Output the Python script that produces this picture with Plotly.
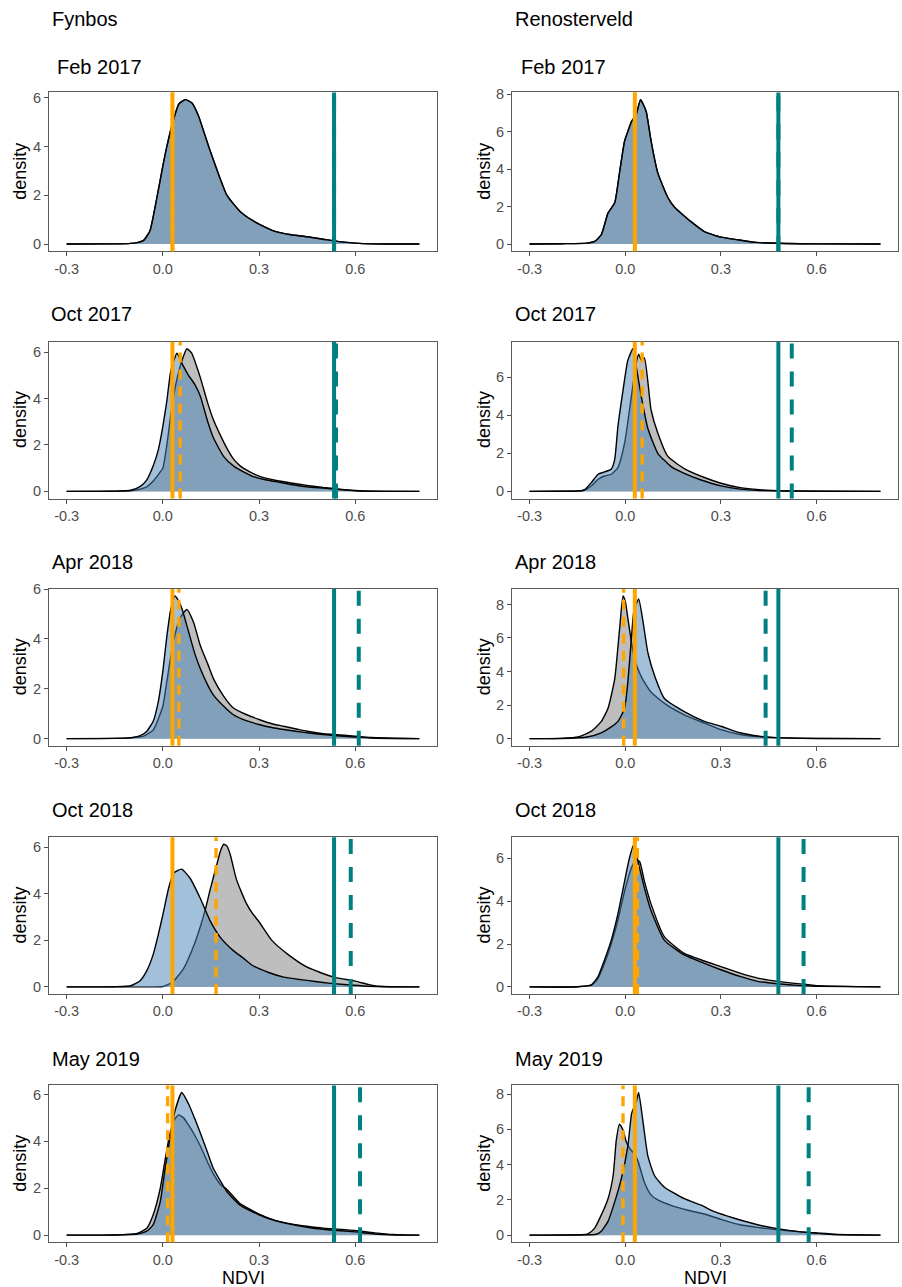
import plotly.graph_objects as go

# ---------------- data ----------------
ROW_TITLES = ["Feb 2017", "Oct 2017", "Apr 2018", "Oct 2018", "May 2019"]
COL_TITLES = ["Fynbos", "Renosterveld"]
X_TICKS = [-0.3, 0.0, 0.3, 0.6]
X_TICK_TEXT = ["-0.3", "0.0", "0.3", "0.6"]

# ---- Fynbos ----
FYN_FEB17_GREY_X = [-0.30, -0.15, -0.10, -0.08, -0.06, -0.04, -0.02, 0.00, 0.0125, 0.03, 0.05, 0.07, 0.09, 0.11, 0.143, 0.17, 0.20, 0.24, 0.27, 0.30, 0.35, 0.40, 0.45, 0.50, 0.55, 0.60, 0.65, 0.80]
FYN_FEB17_GREY_Y = [0, 0.01, 0.03, 0.06, 0.15, 0.55, 1.8, 3.2, 4.0, 4.95, 5.75, 5.93, 5.8, 5.3, 4.0, 3.0, 2.0, 1.35, 1.05, 0.82, 0.52, 0.38, 0.3, 0.2, 0.1, 0.04, 0.01, 0]
FYN_FEB17_BLUE_X = FYN_FEB17_GREY_X
FYN_FEB17_BLUE_Y = FYN_FEB17_GREY_Y

FYN_OCT17_GREY_X = [-0.30, -0.15, -0.10, -0.07, -0.05, -0.03, -0.01, 0.00, 0.0125, 0.023, 0.035, 0.045, 0.06, 0.075, 0.09, 0.105, 0.117, 0.14, 0.158, 0.18, 0.20, 0.22, 0.242, 0.27, 0.30, 0.35, 0.40, 0.45, 0.50, 0.55, 0.60, 0.65, 0.80]
FYN_OCT17_GREY_Y = [0, 0.01, 0.03, 0.1, 0.2, 0.45, 0.8, 1.0, 2.0, 3.1, 4.2, 4.9, 5.65, 6.14, 5.95, 5.4, 4.9, 3.8, 3.07, 2.4, 1.85, 1.4, 1.09, 0.85, 0.66, 0.48, 0.36, 0.26, 0.17, 0.1, 0.04, 0.01, 0]
FYN_OCT17_BLUE_X = [-0.30, -0.15, -0.10, -0.07, -0.05, -0.03, -0.014, 0.00, 0.0125, 0.025, 0.044, 0.06, 0.08, 0.10, 0.117, 0.14, 0.158, 0.19, 0.22, 0.25, 0.28, 0.32, 0.36, 0.40, 0.45, 0.50, 0.55, 0.60, 0.65, 0.80]
FYN_OCT17_BLUE_Y = [0, 0.01, 0.05, 0.22, 0.5, 1.1, 1.8, 2.8, 3.9, 5.2, 5.95, 5.5, 5.0, 4.6, 4.1, 3.0, 2.3, 1.5, 1.1, 0.85, 0.65, 0.5, 0.4, 0.3, 0.2, 0.14, 0.08, 0.03, 0.01, 0]

FYN_APR18_GREY_X = [-0.30, -0.15, -0.10, -0.06, -0.03, 0.00, 0.0125, 0.033, 0.054, 0.075, 0.096, 0.117, 0.14, 0.158, 0.19, 0.22, 0.26, 0.30, 0.34, 0.377, 0.42, 0.45, 0.50, 0.53, 0.60, 0.65, 0.80]
FYN_APR18_GREY_Y = [0, 0.01, 0.03, 0.1, 0.35, 1.3, 2.3, 3.9, 4.85, 5.18, 4.66, 3.73, 3.0, 2.4, 1.7, 1.23, 0.97, 0.77, 0.6, 0.5, 0.38, 0.3, 0.2, 0.17, 0.1, 0.05, 0]
FYN_APR18_BLUE_X = [-0.30, -0.15, -0.10, -0.07, -0.05, -0.03, -0.014, 0.00, 0.0125, 0.025, 0.038, 0.05, 0.06, 0.08, 0.10, 0.117, 0.14, 0.158, 0.19, 0.22, 0.26, 0.30, 0.34, 0.377, 0.42, 0.45, 0.50, 0.53, 0.60, 0.65, 0.80]
FYN_APR18_BLUE_Y = [0, 0.01, 0.04, 0.12, 0.3, 0.7, 1.5, 2.7, 4.1, 5.2, 5.72, 5.5, 5.2, 4.3, 3.4, 2.8, 2.15, 1.75, 1.3, 0.96, 0.72, 0.57, 0.45, 0.37, 0.29, 0.24, 0.16, 0.13, 0.07, 0.03, 0]

FYN_OCT18_GREY_X = [-0.30, -0.05, 0.00, 0.03, 0.065, 0.10, 0.117, 0.132, 0.148, 0.169, 0.18, 0.19, 0.20, 0.21, 0.23, 0.26, 0.28, 0.30, 0.34, 0.39, 0.45, 0.533, 0.60, 0.64, 0.67, 0.80]
FYN_OCT18_GREY_Y = [0, 0, 0.02, 0.2, 0.8, 1.9, 2.6, 3.3, 4.2, 5.3, 5.85, 6.13, 6.05, 5.7, 4.6, 3.6, 3.15, 2.8, 2.0, 1.4, 0.85, 0.42, 0.25, 0.11, 0.03, 0]
FYN_OCT18_BLUE_X = [-0.30, -0.15, -0.10, -0.07, -0.05, -0.03, -0.014, 0.00, 0.018, 0.033, 0.059, 0.085, 0.117, 0.148, 0.18, 0.22, 0.25, 0.28, 0.33, 0.377, 0.42, 0.45, 0.50, 0.533, 0.596, 0.64, 0.70, 0.80]
FYN_OCT18_BLUE_Y = [0, 0.01, 0.05, 0.28, 0.7, 1.4, 2.26, 3.1, 4.24, 4.88, 5.06, 4.67, 3.8, 2.83, 2.12, 1.56, 1.25, 0.92, 0.62, 0.42, 0.33, 0.28, 0.19, 0.14, 0.07, 0.03, 0.01, 0]

FYN_MAY19_GREY_X = [-0.30, -0.15, -0.08, -0.05, -0.03, -0.008, 0.007, 0.02, 0.035, 0.049, 0.065, 0.08, 0.10, 0.117, 0.14, 0.158, 0.18, 0.20, 0.24, 0.30, 0.35, 0.40, 0.45, 0.50, 0.533, 0.60, 0.66, 0.72, 0.80]
FYN_MAY19_GREY_Y = [0, 0.01, 0.08, 0.3, 0.87, 2.0, 3.2, 4.2, 4.9, 5.13, 5.0, 4.7, 4.25, 3.8, 3.1, 2.6, 2.15, 1.95, 1.36, 0.9, 0.63, 0.48, 0.38, 0.3, 0.27, 0.2, 0.1, 0.03, 0]
FYN_MAY19_BLUE_X = [-0.30, -0.15, -0.08, -0.05, -0.03, -0.008, 0.007, 0.023, 0.038, 0.059, 0.08, 0.10, 0.117, 0.14, 0.158, 0.18, 0.20, 0.24, 0.30, 0.35, 0.40, 0.45, 0.50, 0.533, 0.60, 0.66, 0.72, 0.80]
FYN_MAY19_BLUE_Y = [0, 0.01, 0.05, 0.17, 0.45, 1.43, 2.83, 4.2, 5.3, 6.08, 5.6, 4.95, 4.36, 3.5, 2.83, 2.3, 1.85, 1.29, 0.87, 0.62, 0.46, 0.34, 0.25, 0.21, 0.14, 0.05, 0.01, 0]

FYN_ORANGE_SOLID = [0.03, 0.03, 0.03, 0.03, 0.03]
FYN_ORANGE_DASH = [0.03, 0.054, 0.05, 0.166, 0.015]
FYN_TEAL_SOLID = [0.534, 0.534, 0.534, 0.534, 0.534]
FYN_TEAL_DASH = [0.534, 0.54, 0.611, 0.586, 0.615]

# ---- Renosterveld ----
REN_FEB17_GREY_X = [-0.30, -0.20, -0.12, -0.096, -0.075, -0.054, -0.033, -0.018, -0.002, 0.012, 0.02, 0.034, 0.048, 0.058, 0.066, 0.081, 0.102, 0.133, 0.155, 0.175, 0.206, 0.248, 0.30, 0.352, 0.41, 0.50, 0.60, 0.80]
REN_FEB17_GREY_Y = [0, 0.02, 0.05, 0.14, 0.5, 1.65, 2.2, 3.8, 5.5, 6.2, 6.55, 6.9, 7.71, 7.4, 7.05, 5.5, 3.8, 2.5, 1.95, 1.65, 1.2, 0.67, 0.37, 0.23, 0.09, 0.03, 0.01, 0]
REN_FEB17_BLUE_X = REN_FEB17_GREY_X
REN_FEB17_BLUE_Y = REN_FEB17_GREY_Y

REN_OCT17_GREY_X = [-0.30, -0.20, -0.13, -0.106, -0.085, -0.065, -0.044, -0.023, -0.002, 0.019, 0.034, 0.042, 0.05, 0.06, 0.081, 0.102, 0.133, 0.185, 0.248, 0.30, 0.36, 0.42, 0.50, 0.60, 0.80]
REN_OCT17_GREY_Y = [0, 0.01, 0.05, 0.3, 0.64, 0.81, 0.9, 1.25, 2.54, 4.96, 6.7, 7.2, 6.9, 7.0, 4.27, 3.06, 1.85, 1.2, 0.73, 0.43, 0.2, 0.09, 0.03, 0.01, 0]
REN_OCT17_BLUE_X = [-0.30, -0.20, -0.14, -0.127, -0.106, -0.085, -0.065, -0.044, -0.033, -0.023, -0.007, 0.008, 0.024, 0.034, 0.05, 0.071, 0.102, 0.144, 0.185, 0.238, 0.30, 0.36, 0.42, 0.50, 0.60, 0.80]
REN_OCT17_BLUE_Y = [0, 0.01, 0.03, 0.09, 0.47, 0.9, 1.02, 1.16, 1.68, 3.4, 5.3, 6.87, 7.48, 6.6, 5.0, 3.3, 2.0, 1.3, 0.95, 0.6, 0.29, 0.12, 0.05, 0.02, 0.01, 0]

REN_APR18_GREY_X = [-0.30, -0.20, -0.148, -0.106, -0.075, -0.054, -0.033, -0.018, -0.007, 0.00, 0.008, 0.019, 0.03, 0.05, 0.08, 0.123, 0.185, 0.248, 0.30, 0.36, 0.42, 0.50, 0.60, 0.80]
REN_APR18_GREY_Y = [0, 0.02, 0.1, 0.45, 1.03, 1.81, 3.56, 6.48, 8.5, 8.2, 7.2, 5.8, 4.7, 3.7, 2.8, 2.1, 1.42, 0.93, 0.54, 0.25, 0.12, 0.05, 0.01, 0]
REN_APR18_BLUE_X = [-0.30, -0.20, -0.12, -0.075, -0.044, -0.023, -0.002, 0.008, 0.019, 0.027, 0.042, 0.055, 0.071, 0.092, 0.123, 0.185, 0.248, 0.30, 0.36, 0.415, 0.47, 0.55, 0.80]
REN_APR18_BLUE_Y = [0, 0.01, 0.1, 0.35, 0.7, 1.03, 1.81, 3.37, 5.9, 7.6, 8.33, 7.06, 5.12, 3.75, 2.39, 1.61, 1.03, 0.74, 0.35, 0.16, 0.06, 0.02, 0]

REN_OCT18_GREY_X = [-0.30, -0.15, -0.106, -0.085, -0.065, -0.044, -0.023, -0.002, 0.019, 0.034, 0.045, 0.06, 0.081, 0.123, 0.185, 0.248, 0.30, 0.36, 0.415, 0.477, 0.55, 0.60, 0.80]
REN_OCT18_GREY_Y = [0, 0.01, 0.08, 0.41, 1.1, 2.0, 3.1, 4.47, 5.54, 5.93, 5.85, 4.93, 3.86, 2.33, 1.56, 1.21, 0.95, 0.64, 0.41, 0.26, 0.14, 0.06, 0]
REN_OCT18_BLUE_X = [-0.30, -0.15, -0.106, -0.085, -0.065, -0.044, -0.023, -0.002, 0.013, 0.027, 0.04, 0.06, 0.081, 0.123, 0.185, 0.248, 0.30, 0.36, 0.415, 0.477, 0.55, 0.60, 0.80]
REN_OCT18_BLUE_Y = [0, 0.01, 0.1, 0.49, 1.26, 2.17, 3.4, 4.93, 6.0, 6.65, 5.85, 4.62, 3.55, 2.17, 1.49, 1.1, 0.8, 0.49, 0.26, 0.15, 0.06, 0.03, 0]

REN_MAY19_GREY_X = [-0.30, -0.20, -0.117, -0.096, -0.075, -0.054, -0.038, -0.028, -0.018, -0.007, 0.003, 0.015, 0.029, 0.04, 0.06, 0.08, 0.102, 0.15, 0.20, 0.248, 0.30, 0.36, 0.415, 0.477, 0.55, 0.60, 0.65, 0.80]
REN_MAY19_GREY_Y = [0, 0.01, 0.07, 0.4, 1.15, 2.07, 3.37, 5.4, 6.3, 5.96, 5.3, 4.9, 4.6, 4.2, 3.0, 2.3, 2.0, 1.65, 1.4, 1.2, 0.9, 0.59, 0.44, 0.31, 0.19, 0.13, 0.06, 0]
REN_MAY19_BLUE_X = [-0.30, -0.15, -0.09, -0.075, -0.054, -0.033, -0.0125, 0.008, 0.02, 0.028, 0.035, 0.042, 0.055, 0.071, 0.092, 0.123, 0.185, 0.238, 0.28, 0.342, 0.415, 0.477, 0.55, 0.60, 0.65, 0.80]
REN_MAY19_BLUE_Y = [0, 0.01, 0.05, 0.22, 0.78, 1.89, 3.19, 5.04, 6.9, 7.3, 7.6, 8.09, 6.52, 4.48, 3.37, 2.72, 2.07, 1.7, 1.33, 0.96, 0.59, 0.37, 0.19, 0.11, 0.04, 0]

REN_ORANGE_SOLID = [0.03, 0.03, 0.03, 0.03, 0.03]
REN_ORANGE_DASH = [0.03, 0.053, -0.005, 0.038, -0.007]
REN_TEAL_SOLID = [0.48, 0.48, 0.48, 0.48, 0.48]
REN_TEAL_DASH = [0.48, 0.522, 0.44, 0.559, 0.575]

FYN_CURVES = [
    (FYN_FEB17_GREY_X, FYN_FEB17_GREY_Y, FYN_FEB17_BLUE_X, FYN_FEB17_BLUE_Y),
    (FYN_OCT17_GREY_X, FYN_OCT17_GREY_Y, FYN_OCT17_BLUE_X, FYN_OCT17_BLUE_Y),
    (FYN_APR18_GREY_X, FYN_APR18_GREY_Y, FYN_APR18_BLUE_X, FYN_APR18_BLUE_Y),
    (FYN_OCT18_GREY_X, FYN_OCT18_GREY_Y, FYN_OCT18_BLUE_X, FYN_OCT18_BLUE_Y),
    (FYN_MAY19_GREY_X, FYN_MAY19_GREY_Y, FYN_MAY19_BLUE_X, FYN_MAY19_BLUE_Y),
]
REN_CURVES = [
    (REN_FEB17_GREY_X, REN_FEB17_GREY_Y, REN_FEB17_BLUE_X, REN_FEB17_BLUE_Y),
    (REN_OCT17_GREY_X, REN_OCT17_GREY_Y, REN_OCT17_BLUE_X, REN_OCT17_BLUE_Y),
    (REN_APR18_GREY_X, REN_APR18_GREY_Y, REN_APR18_BLUE_X, REN_APR18_BLUE_Y),
    (REN_OCT18_GREY_X, REN_OCT18_GREY_Y, REN_OCT18_BLUE_X, REN_OCT18_BLUE_Y),
    (REN_MAY19_GREY_X, REN_MAY19_GREY_Y, REN_MAY19_BLUE_X, REN_MAY19_BLUE_Y),
]
VLINES = [
    (FYN_ORANGE_SOLID, FYN_ORANGE_DASH, FYN_TEAL_SOLID, FYN_TEAL_DASH),
    (REN_ORANGE_SOLID, REN_ORANGE_DASH, REN_TEAL_SOLID, REN_TEAL_DASH),
]

# ---------------- layout geometry (pixels) ----------------
W, H = 902, 1287
COL_X = [(49, 437), (512, 898)]
ROW_Y = [(85, 245), (336, 494), (585, 743), (835, 993), (1085, 1243)]
TITLE_Y = [59, 308, 558, 808, 1058]
TITLE_X = [[55, 49, 50, 50, 50], [519, 513, 513, 513, 513]]
DENSITY_X = [20, 484]

FONT = "Liberation Sans, Arial, sans-serif"
ORANGE = "#FFA500"
TEAL = "#008080"
GREY_FILL = "rgb(190,190,190)"
BLUE_FILL = "rgba(70,130,180,0.5)"


def fx(p):
    return p / W


def fy(p):
    return 1 - p / H


fig = go.Figure()
layout = dict(
    width=W, height=H, autosize=False,
    margin=dict(l=0, r=0, t=0, b=0),
    paper_bgcolor="white", plot_bgcolor="white",
    showlegend=False,
    font=dict(family=FONT, color="black"),
)
shapes = []
annotations = []

n = 0
for c, curves in enumerate([FYN_CURVES, REN_CURVES]):
    o_s, o_d, t_s, t_d = VLINES[c]
    for r in range(5):
        n += 1
        ax = "" if n == 1 else str(n)
        gx, gy, bx, by = curves[r]
        m = max(max(gy), max(by))
        xr = [-0.3 - 0.055, 0.8 + 0.055]
        yr = [-0.05 * m, 1.05 * m]
        common = dict(showgrid=False, zeroline=False, showline=True, mirror=True,
                      linecolor="#5a5a5a", linewidth=1, ticks="outside", ticklen=4,
                      tickcolor="#4d4d4d", tickwidth=1,
                      tickfont=dict(size=14.5, color="#4d4d4d", family=FONT))
        layout["xaxis" + ax] = dict(common, domain=[fx(COL_X[c][0]), fx(COL_X[c][1])],
                                    anchor="y" + ax, range=xr,
                                    tickvals=X_TICKS, ticktext=X_TICK_TEXT)
        layout["yaxis" + ax] = dict(common, domain=[fy(ROW_Y[r][1]), fy(ROW_Y[r][0])],
                                    anchor="x" + ax, range=yr, dtick=2, tick0=0)
        line_style = dict(color="black", width=1.4, shape="spline", smoothing=0.5)
        fig.add_trace(go.Scatter(x=gx, y=gy, xaxis="x" + ax, yaxis="y" + ax,
                                 mode="lines", fill="tozeroy", fillcolor=GREY_FILL,
                                 line=line_style, hoverinfo="skip"))
        fig.add_trace(go.Scatter(x=bx, y=by, xaxis="x" + ax, yaxis="y" + ax,
                                 mode="lines", fill="tozeroy", fillcolor=BLUE_FILL,
                                 line=line_style, hoverinfo="skip"))
        for xv, col, wd, dash in [
            (o_d[r], ORANGE, 3.4, "10px,7px"),
            (t_d[r], TEAL, 4, "15px,13px"),
            (o_s[r], ORANGE, 4, "solid"),
            (t_s[r], TEAL, 4, "solid"),
        ]:
            shapes.append(dict(type="line", xref="x" + ax, yref="y" + ax + " domain",
                               x0=xv, x1=xv, y0=0, y1=1, layer="above",
                               line=dict(color=col, width=wd, dash=dash)))
        # panel title
        annotations.append(dict(text=ROW_TITLES[r], xref="paper", yref="paper",
                                x=fx(TITLE_X[c][r]), y=fy(TITLE_Y[r]),
                                xanchor="left", yanchor="middle", showarrow=False,
                                font=dict(size=20, color="black", family=FONT)))
        # y-axis title
        annotations.append(dict(text="density", xref="paper", yref="paper",
                                x=fx(DENSITY_X[c]), y=fy((ROW_Y[r][0] + ROW_Y[r][1]) / 2),
                                xanchor="center", yanchor="middle", textangle=-90,
                                showarrow=False,
                                font=dict(size=18, color="black", family=FONT)))

# column headers and x-axis titles
for c, t in enumerate(COL_TITLES):
    annotations.append(dict(text=t, xref="paper", yref="paper",
                            x=fx([50, 513][c]), y=fy(11), xanchor="left", yanchor="middle",
                            showarrow=False, font=dict(size=20, color="black", family=FONT)))
    annotations.append(dict(text="NDVI", xref="paper", yref="paper",
                            x=fx((COL_X[c][0] + COL_X[c][1]) / 2), y=0,
                            xanchor="center", yanchor="bottom", yshift=-3,
                            borderpad=0, showarrow=False,
                            font=dict(size=18, color="black", family=FONT)))

layout["shapes"] = shapes
layout["annotations"] = annotations
fig.update_layout(**layout)
fig.write_html("out.html")
